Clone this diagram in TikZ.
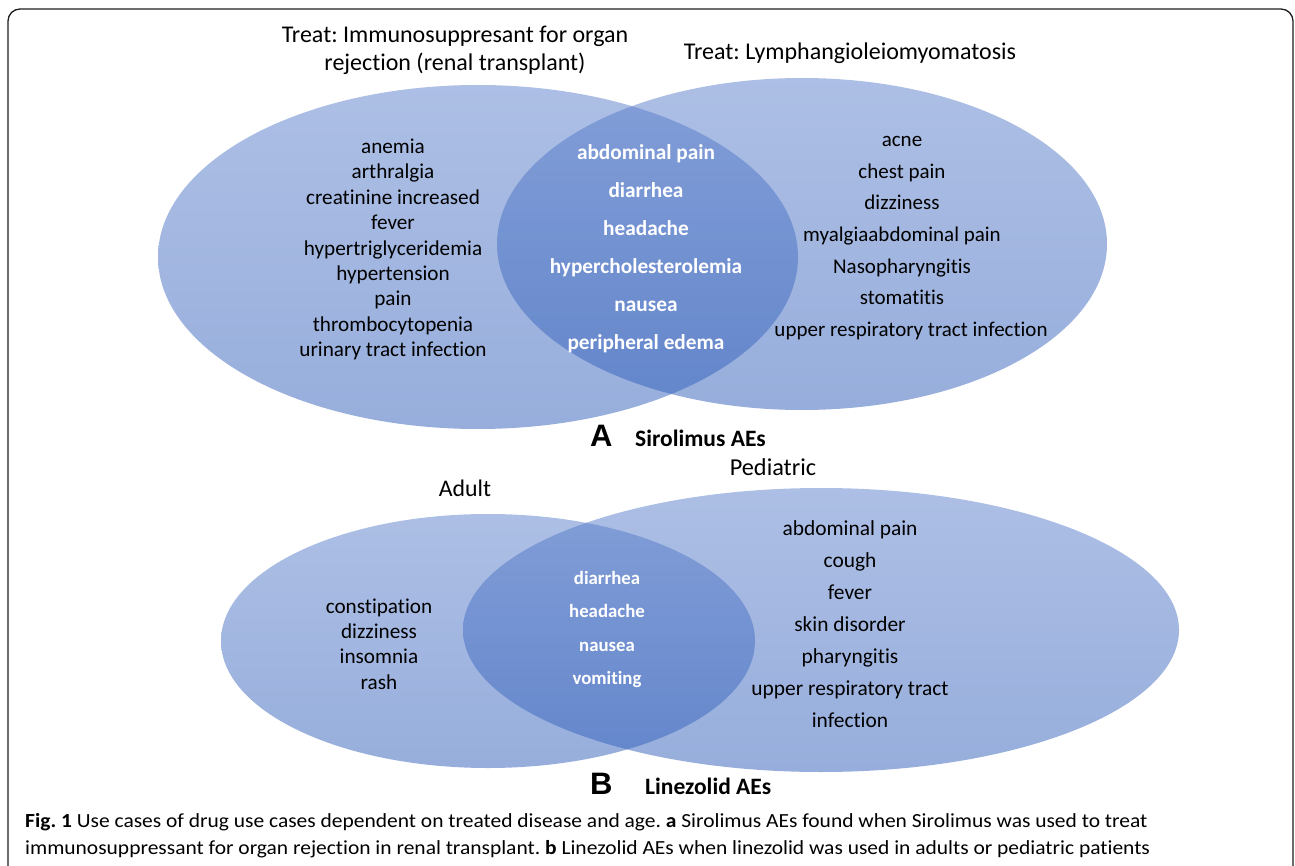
\documentclass[tikz,border=0pt]{standalone}
\usepackage{fontspec}
\setmainfont{Carlito}[Ligatures={NoCommon}]
\newfontfamily\arialfont{Liberation Sans}
\usetikzlibrary{shapes.geometric}
\definecolor{vtop}{RGB}{91,127,203}
\definecolor{vbot}{RGB}{47,93,185}
\definecolor{framecol}{RGB}{30,30,30}
\frenchspacing
\begin{document}
\begin{tikzpicture}[x=1pt,y=-1pt,
  venn/.style={ellipse, inner sep=0pt, outer sep=0pt, draw=none,
    top color=vtop, bottom color=vbot, fill opacity=0.5},
  itemlist/.style={align=center, inner sep=0pt, text=black},
  interlist/.style={align=center, inner sep=0pt, text=white},
  setlabel/.style={align=center, inner sep=0pt, text=black},
  letter/.style={anchor=base west, inner sep=0pt, font=\arialfont\bfseries\fontsize{31}{31}\selectfont},
  panel/.style={anchor=base west, inner sep=0pt, font=\bfseries\fontsize{23.5}{23.5}\selectfont},
  captionline/.style={anchor=base west, inner sep=0pt, font=\fontsize{20}{20}\selectfont}
]
\useasboundingbox (0,0) rectangle (1295,866);
% frame
\draw[framecol, line width=1.3pt, rounded corners=12pt] (8,880) -- (8,9) -- (1293,9) -- (1293,880);

% ---------- Panel A ----------
\node[venn, minimum width=640pt, minimum height=344pt] (a1) at (478,257) {};
\node[venn, minimum width=610pt, minimum height=332pt] (a2) at (802,244) {};

\node[setlabel, font=\fontsize{24}{28}\selectfont] (ta1) at (455,50)
  {Treat: Immunosuppresant for organ\\rejection (renal transplant)};
\node[setlabel, font=\fontsize{24}{28}\selectfont] (ta2) at (850,53)
  {Treat: Lymphangioleiomyomatosis};

\node[itemlist, font=\fontsize{21.2}{25.4}\selectfont] (la1) at (393,249.5)
  {anemia\\arthralgia\\creatinine increased\\fever\\hypertriglyceridemia\\hypertension\\pain\\thrombocytopenia\\urinary tract infection};
\node[interlist, font=\bfseries\fontsize{21.3}{38}\selectfont] (ia) at (646,249)
  {abdominal pain\\diarrhea\\headache\\hypercholesterolemia\\nausea\\peripheral edema};
\node[itemlist, font=\fontsize{21}{31.7}\selectfont] (la2) at (902,238)
  {acne\\chest pain\\dizziness\\myalgiaabdominal pain\\Nasopharyngitis\\stomatitis\\\hspace*{18pt}upper respiratory tract infection};

\node[letter] (lA) at (590,446) {A};
\node[panel] (pA) at (635,446) {Sirolimus AEs};

% ---------- Panel B ----------
\node[venn, minimum width=534pt, minimum height=254pt] (b1) at (488,641) {};
\node[venn, minimum width=716pt, minimum height=284pt] (b2) at (821,630) {};

\node[setlabel, font=\fontsize{23.8}{26}\selectfont] (tb1) at (465,488) {Adult};
\node[setlabel, font=\fontsize{24.3}{26}\selectfont] (tb2) at (773,467) {Pediatric};

\node[itemlist, font=\fontsize{21.2}{25.3}\selectfont] (lb1) at (379,644)
  {constipation\\dizziness\\insomnia\\rash};
\node[interlist, font=\bfseries\fontsize{18.8}{33.6}\selectfont] (ib) at (607,629.5)
  {diarrhea\\headache\\nausea\\vomiting};
\node[itemlist, font=\fontsize{21.4}{32}\selectfont] (lb2) at (850,624)
  {abdominal pain\\cough\\fever\\skin disorder\\pharyngitis\\upper respiratory tract\\infection};

\node[letter] (lB) at (590,794) {B};
\node[panel] (pB) at (645,794) {Linezolid AEs};

% ---------- Caption ----------
\node[captionline] (c1) at (25,827.5)
  {\scalebox{1.074}[1]{\textbf{Fig. 1} Use cases of drug use cases dependent on treated disease and age. \textbf{a} Sirolimus AEs found when Sirolimus was used to treat}};
\node[captionline] (c2) at (25,854.5)
  {\scalebox{1.074}[1]{immunosuppressant for organ rejection in renal transplant. \textbf{b} Linezolid AEs when linezolid was used in adults or pediatric patients}};
\end{tikzpicture}
\end{document}
